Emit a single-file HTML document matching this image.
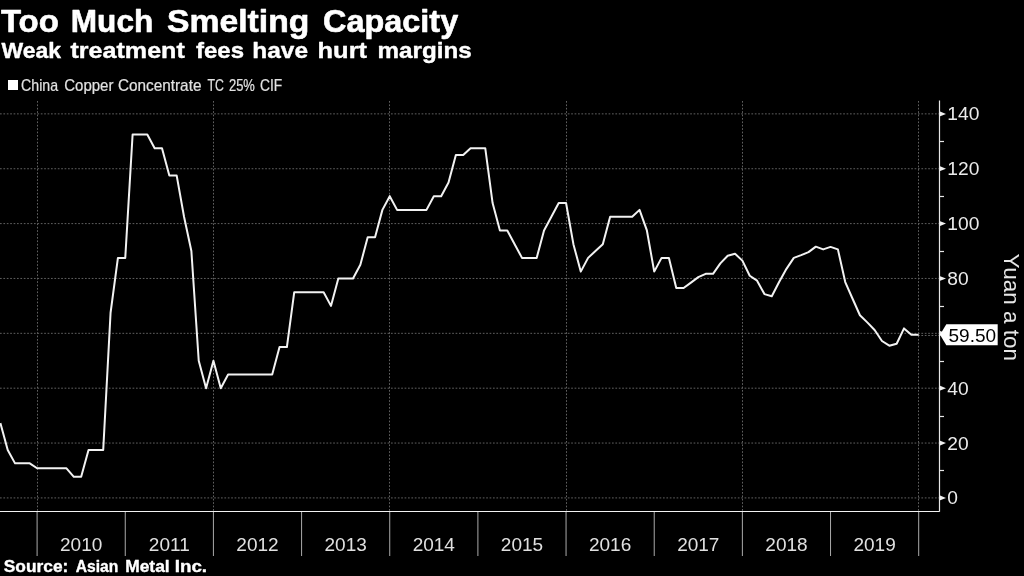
<!DOCTYPE html>
<html><head><meta charset="utf-8">
<style>
html,body{margin:0;padding:0;background:#000;width:1024px;height:576px;overflow:hidden}
svg{display:block;will-change:transform}
text{font-family:"Liberation Sans",sans-serif}
</style></head><body>
<svg width="1024" height="576" viewBox="0 0 1024 576">
<rect width="1024" height="576" fill="#000"/>
<text x="0.9" y="32" font-size="31.6" font-weight="bold" fill="#fff" stroke="#fff" stroke-width="0.6" stroke-linejoin="round" textLength="58.0" lengthAdjust="spacingAndGlyphs">Too</text>
<text x="70.83" y="32" font-size="31.6" font-weight="bold" fill="#fff" stroke="#fff" stroke-width="0.6" stroke-linejoin="round" textLength="82.4" lengthAdjust="spacingAndGlyphs">Much</text>
<text x="167.05" y="32" font-size="31.6" font-weight="bold" fill="#fff" stroke="#fff" stroke-width="0.6" stroke-linejoin="round" textLength="142.29" lengthAdjust="spacingAndGlyphs">Smelting</text>
<text x="323.09" y="32" font-size="31.6" font-weight="bold" fill="#fff" stroke="#fff" stroke-width="0.6" stroke-linejoin="round" textLength="135.11" lengthAdjust="spacingAndGlyphs">Capacity</text>
<text x="1.4" y="58.4" font-size="22.2" font-weight="bold" fill="#fff" stroke="#fff" stroke-width="0.4" stroke-linejoin="round" textLength="59.53" lengthAdjust="spacingAndGlyphs">Weak</text>
<text x="70.5" y="58.4" font-size="22.2" font-weight="bold" fill="#fff" stroke="#fff" stroke-width="0.4" stroke-linejoin="round" textLength="114.28" lengthAdjust="spacingAndGlyphs">treatment</text>
<text x="196.0" y="58.4" font-size="22.2" font-weight="bold" fill="#fff" stroke="#fff" stroke-width="0.4" stroke-linejoin="round" textLength="48.02" lengthAdjust="spacingAndGlyphs">fees</text>
<text x="252.31" y="58.4" font-size="22.2" font-weight="bold" fill="#fff" stroke="#fff" stroke-width="0.4" stroke-linejoin="round" textLength="55.71" lengthAdjust="spacingAndGlyphs">have</text>
<text x="317.57" y="58.4" font-size="22.2" font-weight="bold" fill="#fff" stroke="#fff" stroke-width="0.4" stroke-linejoin="round" textLength="49.45" lengthAdjust="spacingAndGlyphs">hurt</text>
<text x="377.52" y="58.4" font-size="22.2" font-weight="bold" fill="#fff" stroke="#fff" stroke-width="0.4" stroke-linejoin="round" textLength="94.15" lengthAdjust="spacingAndGlyphs">margins</text>
<rect x="8" y="80" width="10" height="10" fill="#fff"/>
<text x="21.07" y="90.8" font-size="15.7" font-weight="normal" fill="#e2e2e2" stroke="#e2e2e2" stroke-width="0.2" stroke-linejoin="round" textLength="37.0" lengthAdjust="spacingAndGlyphs">China</text>
<text x="64.22" y="90.8" font-size="15.7" font-weight="normal" fill="#e2e2e2" stroke="#e2e2e2" stroke-width="0.2" stroke-linejoin="round" textLength="49.25" lengthAdjust="spacingAndGlyphs">Copper</text>
<text x="117.9" y="90.8" font-size="15.7" font-weight="normal" fill="#e2e2e2" stroke="#e2e2e2" stroke-width="0.2" stroke-linejoin="round" textLength="83.55" lengthAdjust="spacingAndGlyphs">Concentrate</text>
<text x="207.5" y="90.8" font-size="15.7" font-weight="normal" fill="#e2e2e2" stroke="#e2e2e2" stroke-width="0.2" stroke-linejoin="round" textLength="16.43" lengthAdjust="spacingAndGlyphs">TC</text>
<text x="228.95" y="90.8" font-size="15.7" font-weight="normal" fill="#e2e2e2" stroke="#e2e2e2" stroke-width="0.2" stroke-linejoin="round" textLength="25.98" lengthAdjust="spacingAndGlyphs">25%</text>
<text x="260.0" y="90.8" font-size="15.7" font-weight="normal" fill="#e2e2e2" stroke="#e2e2e2" stroke-width="0.2" stroke-linejoin="round" textLength="22.3" lengthAdjust="spacingAndGlyphs">CIF</text>
<g stroke="#606060" stroke-width="1" stroke-dasharray="1.7,1.7" fill="none">
<line x1="0" y1="497.92" x2="939.5" y2="497.92" />
<line x1="0" y1="443.06" x2="939.5" y2="443.06" />
<line x1="0" y1="388.19" x2="939.5" y2="388.19" />
<line x1="0" y1="333.33" x2="939.5" y2="333.33" />
<line x1="0" y1="278.46" x2="939.5" y2="278.46" />
<line x1="0" y1="223.6" x2="939.5" y2="223.6" />
<line x1="0" y1="168.74" x2="939.5" y2="168.74" />
<line x1="0" y1="113.87" x2="939.5" y2="113.87" />
<line x1="37.5" y1="101" x2="37.5" y2="511" />
<line x1="213.5" y1="101" x2="213.5" y2="511" />
<line x1="389.5" y1="101" x2="389.5" y2="511" />
<line x1="566.5" y1="101" x2="566.5" y2="511" />
<line x1="742.5" y1="101" x2="742.5" y2="511" />
<line x1="918.5" y1="101" x2="918.5" y2="511" />
<line x1="918" y1="335.5" x2="939.5" y2="335.5" />
</g>
<g stroke="#aaaaaa" stroke-width="1">
<line x1="37.1" y1="512" x2="37.1" y2="556" />
<line x1="125.26" y1="512" x2="125.26" y2="556" />
<line x1="213.42" y1="512" x2="213.42" y2="556" />
<line x1="301.58" y1="512" x2="301.58" y2="556" />
<line x1="389.74" y1="512" x2="389.74" y2="556" />
<line x1="477.9" y1="512" x2="477.9" y2="556" />
<line x1="566.06" y1="512" x2="566.06" y2="556" />
<line x1="654.22" y1="512" x2="654.22" y2="556" />
<line x1="742.38" y1="512" x2="742.38" y2="556" />
<line x1="830.54" y1="512" x2="830.54" y2="556" />
<line x1="918.7" y1="512" x2="918.7" y2="556" />
</g>
<g stroke="#e6e6e6" stroke-width="1.2" fill="none">
<line x1="0" y1="511.5" x2="939.5" y2="511.5" stroke-width="1" stroke="#f2f2f2"/>
<line x1="939.5" y1="100.5" x2="939.5" y2="511.8"/>
<line x1="939.5" y1="470.5" x2="944" y2="470.5" />
<line x1="939.5" y1="416.5" x2="944" y2="416.5" />
<line x1="939.5" y1="361.5" x2="944" y2="361.5" />
<line x1="939.5" y1="306.5" x2="944" y2="306.5" />
<line x1="939.5" y1="251.5" x2="944" y2="251.5" />
<line x1="939.5" y1="196.5" x2="944" y2="196.5" />
<line x1="939.5" y1="141.5" x2="944" y2="141.5" />
</g>
<g fill="#f0f0f0"><polygon points="939.5,495.3 946,497.9 939.5,500.5" />
<polygon points="939.5,440.5 946,443.1 939.5,445.7" />
<polygon points="939.5,385.6 946,388.2 939.5,390.8" />
<polygon points="939.5,330.7 946,333.3 939.5,335.9" />
<polygon points="939.5,275.9 946,278.5 939.5,281.1" />
<polygon points="939.5,221.0 946,223.6 939.5,226.2" />
<polygon points="939.5,166.1 946,168.7 939.5,171.3" />
<polygon points="939.5,111.3 946,113.9 939.5,116.5" /></g>
<polyline points="0.37,423.03 7.72,449.91 15.06,463.36 22.41,463.36 29.76,463.36 37.10,468.29 44.45,468.29 51.80,468.29 59.14,468.29 66.49,468.29 73.84,476.80 81.18,476.80 88.53,449.91 95.88,449.91 103.22,449.91 110.57,312.75 117.92,257.89 125.26,257.89 132.61,134.45 139.96,134.45 147.30,134.45 154.65,148.16 162.00,148.16 169.34,175.59 176.69,175.59 184.04,216.74 191.38,251.03 198.73,360.76 206.08,388.19 213.42,360.76 220.77,388.19 228.12,374.48 235.46,374.48 242.81,374.48 250.16,374.48 257.50,374.48 264.85,374.48 272.20,374.48 279.54,347.04 286.89,347.04 294.24,292.18 301.58,292.18 308.93,292.18 316.28,292.18 323.62,292.18 330.97,305.90 338.32,278.46 345.66,278.46 353.01,278.46 360.36,264.75 367.70,237.32 375.05,237.32 382.40,209.88 389.74,196.17 397.09,209.88 404.44,209.88 411.78,209.88 419.13,209.88 426.48,209.88 433.82,196.17 441.17,196.17 448.52,182.45 455.86,155.02 463.21,155.02 470.56,148.16 477.90,148.16 485.25,148.16 492.60,203.03 499.94,230.46 507.29,230.46 514.64,244.17 521.98,257.89 529.33,257.89 536.68,257.89 544.02,230.46 551.37,216.74 558.72,203.03 566.06,203.03 573.41,244.17 580.76,271.61 588.10,257.89 595.45,251.03 602.80,244.17 610.14,216.74 617.49,216.74 624.84,216.74 632.18,216.74 639.53,209.88 646.88,230.46 654.22,271.61 661.57,257.89 668.92,257.89 676.26,288.07 683.61,288.07 690.96,282.58 698.30,277.09 705.65,273.80 713.00,273.80 720.34,263.38 727.69,255.70 735.04,253.78 742.38,260.63 749.73,275.72 757.08,280.66 764.42,294.10 771.77,296.29 779.12,282.03 786.46,268.86 793.81,257.89 801.16,255.15 808.50,252.13 815.85,246.64 823.20,249.39 830.54,246.92 837.89,249.39 845.24,282.03 852.58,298.76 859.93,315.22 867.28,322.36 874.62,330.04 881.97,341.01 889.32,345.67 896.66,343.75 904.01,328.39 911.36,334.70 918.70,334.70" fill="none" stroke="#f2f2f2" stroke-width="2" stroke-linejoin="round"/>
<g fill="#ebebeb" font-size="19.2">
<text x="947.3" y="504.4">0</text>
<text x="947.3" y="449.6">20</text>
<text x="947.3" y="394.7">40</text>
<text x="947.3" y="339.8">60</text>
<text x="947.3" y="285.0">80</text>
<text x="947.3" y="230.1">100</text>
<text x="947.3" y="175.2">120</text>
<text x="947.3" y="120.4">140</text>
</g>
<g fill="#e0e0e0" font-size="19">
<text x="81.2" y="551" text-anchor="middle">2010</text>
<text x="169.3" y="551" text-anchor="middle">2011</text>
<text x="257.5" y="551" text-anchor="middle">2012</text>
<text x="345.7" y="551" text-anchor="middle">2013</text>
<text x="433.8" y="551" text-anchor="middle">2014</text>
<text x="522.0" y="551" text-anchor="middle">2015</text>
<text x="610.1" y="551" text-anchor="middle">2016</text>
<text x="698.3" y="551" text-anchor="middle">2017</text>
<text x="786.5" y="551" text-anchor="middle">2018</text>
<text x="874.6" y="551" text-anchor="middle">2019</text>
</g>
<polygon points="940,334.7 946.3,324.2 997.7,324.2 997.7,345.3 946.3,345.3" fill="#fff"/>
<text x="948.5" y="341.5" fill="#000" font-size="19">59.50</text>
<text transform="translate(1004,253.5) rotate(90)" x="0" y="0" fill="#e6e6e6" font-size="22.5">Yuan a ton</text>
<text x="3.72" y="572" font-size="15.6" font-weight="bold" fill="#fff" stroke="#fff" stroke-width="0.35" stroke-linejoin="round" textLength="64.6" lengthAdjust="spacingAndGlyphs">Source:</text>
<text x="75.7" y="572" font-size="15.6" font-weight="bold" fill="#fff" stroke="#fff" stroke-width="0.35" stroke-linejoin="round" textLength="42.56" lengthAdjust="spacingAndGlyphs">Asian</text>
<text x="125.21" y="572" font-size="15.6" font-weight="bold" fill="#fff" stroke="#fff" stroke-width="0.35" stroke-linejoin="round" textLength="44.47" lengthAdjust="spacingAndGlyphs">Metal</text>
<text x="174.73" y="572" font-size="15.6" font-weight="bold" fill="#fff" stroke="#fff" stroke-width="0.35" stroke-linejoin="round" textLength="32.33" lengthAdjust="spacingAndGlyphs">Inc.</text>
</svg>
</body></html>
